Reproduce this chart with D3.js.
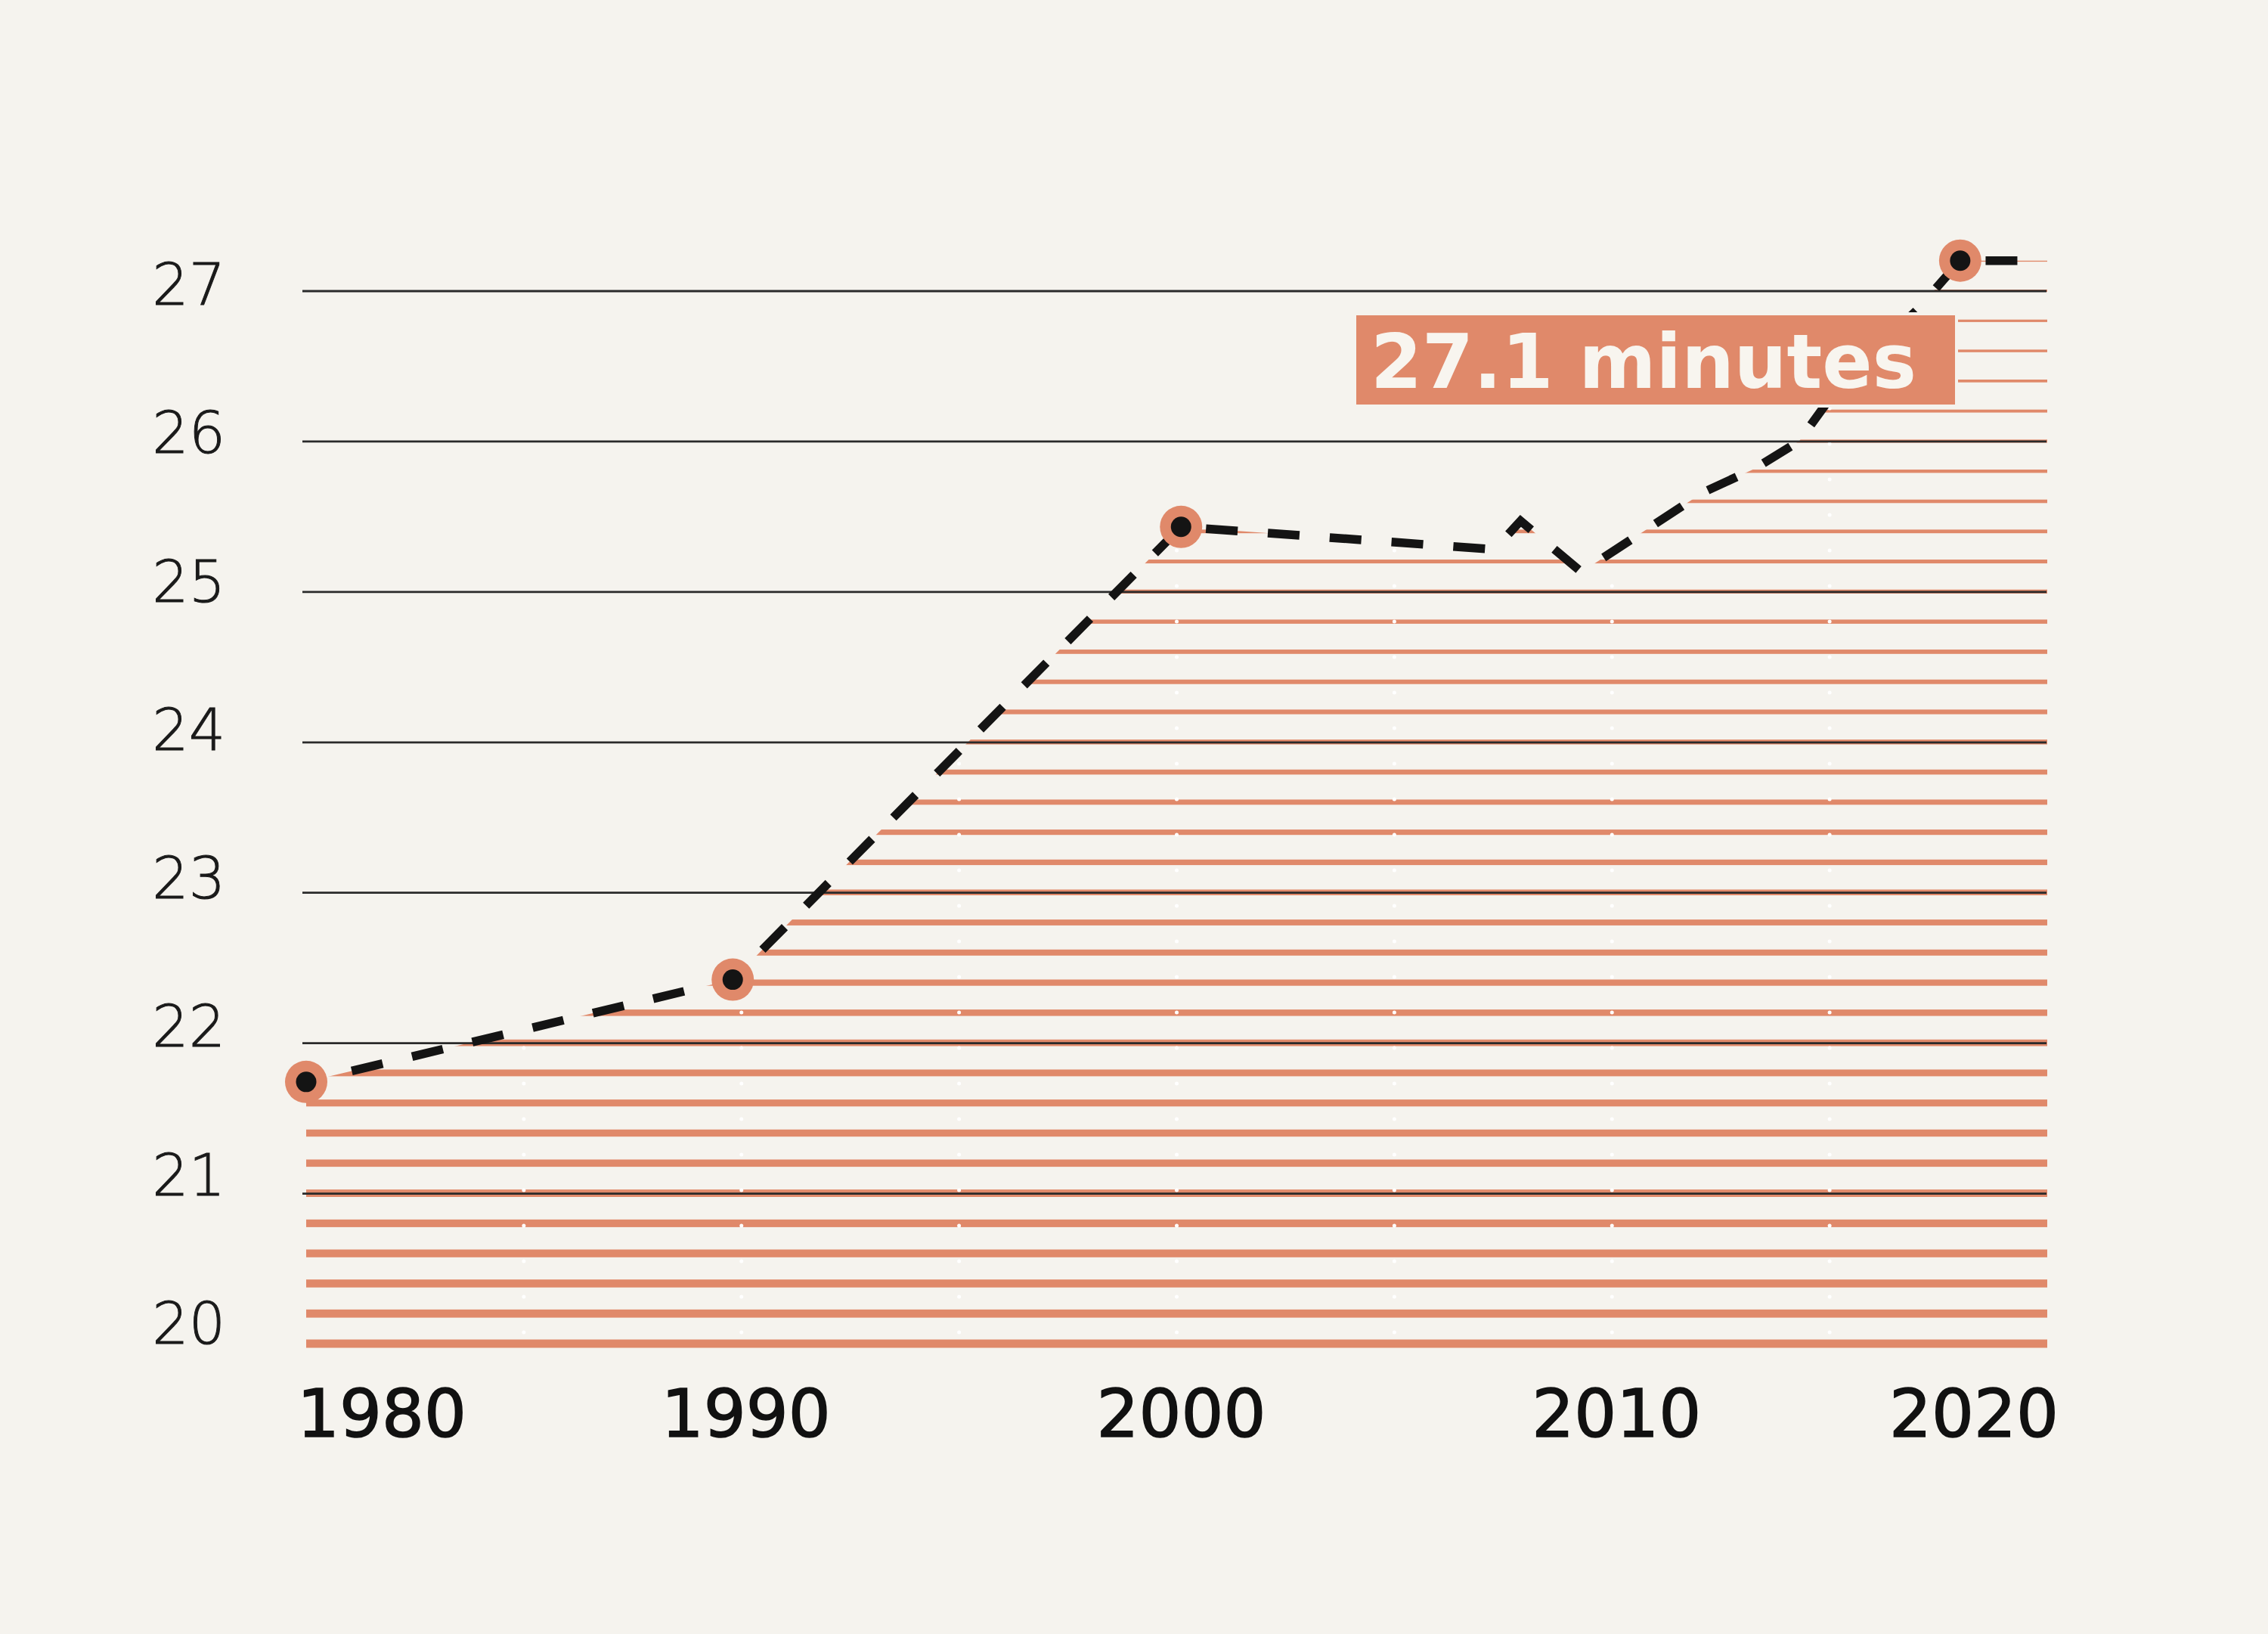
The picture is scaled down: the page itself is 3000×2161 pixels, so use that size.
<!DOCTYPE html>
<html>
<head>
<meta charset="utf-8">
<script src="https://cdn.jsdelivr.net/npm/d3@7"></script>
<style>
  html, body { margin: 0; padding: 0; background: #F5F3EE; }
  svg { display: block; }
</style>
</head>
<body>
<svg id="chart" width="3000" height="2161"></svg>
<script>
// ---- data ----
const years   = [1980, 1989.8, 2000.1, 2007.3, 2007.9, 2009.3, 2012.1, 2013.3, 2014.3, 2015.3, 2017, 2018, 2020];
const minutes = [21.74, 22.42, 25.43, 25.28, 25.47, 25.13, 25.66, 25.82, 26.0, 26.4, 26.87, 27.2, 27.2];
const highlightYears = [1980, 1989.8, 2000.1, 2018];
const yTickValues = [20, 21, 22, 23, 24, 25, 26, 27];
const gridValues  = [21, 22, 23, 24, 25, 26, 27];
const xTickValues = [1980, 1990, 2000, 2010, 2020];
const minorXTicks = [1985, 1990, 1995, 2000, 2005, 2010, 2015];
const calloutText = "27.1 minutes";

// ---- styles ----
const BG = "#F5F3EE";
const ORANGE = "#E0896A";
const INK = "#141414";

const W = 3000, H = 2161;
const svg = d3.select("#chart");
svg.append("rect").attr("width", W).attr("height", H).attr("fill", BG);

const x = d3.scaleLinear().domain([1980, 2020]).range([405, 2708]);
const y = d3.scaleLinear().domain([20, 27]).range([1777, 384.5]);
const yLab = d3.scaleLinear().domain([20, 27]).range([1777, 403]);

const data = years.map((yr, i) => ({ yr, v: minutes[i] }));

// clip = area under the line
const area = d3.area().x(d => x(d.yr)).y0(y(19.9)).y1(d => y(d.v));
svg.append("clipPath").attr("id", "under")
  .append("path").attr("d", area(data));

// stripe pattern every 0.2 minutes, thicker toward the bottom
const stripeVals = d3.range(0, 37).map(i => 20 + i / 5);
const thick = v => 3 + 8 * (y(v) - y(27)) / (y(20) - y(27));
const gStripes = svg.append("g").attr("clip-path", "url(#under)");
gStripes.selectAll("rect").data(stripeVals).join("rect")
  .attr("x", x(1980)).attr("width", x(2020) - x(1980))
  .attr("y", d => y(d) - thick(d) / 2)
  .attr("height", d => Math.max(2.5, thick(d)))
  .attr("fill", ORANGE);

// faint white dotted verticals every 5 years
gStripes.selectAll("line.vdot").data(minorXTicks).join("line")
  .attr("class", "vdot")
  .attr("x1", d => x(d)).attr("x2", d => x(d))
  .attr("y1", y(27.4)).attr("y2", y(19.9))
  .attr("stroke", "#FFFFFF").attr("stroke-width", 5)
  .attr("stroke-linecap", "round").attr("stroke-dasharray", "0 47");

// gridlines
const grid = svg.append("g").attr("transform", `translate(${x(2020) - 1},0)`)
  .call(d3.axisLeft(y).tickValues(gridValues).tickSize(x(2020) - 401).tickFormat(""));
grid.select(".domain").remove();
grid.selectAll(".tick line").attr("stroke", "#2A2A2A").attr("stroke-width", 2.8);

// dashed line
const line = d3.line().x(d => x(d.yr)).y(d => y(d.v));
svg.append("path").attr("d", line(data))
  .attr("fill", "none").attr("stroke", INK).attr("stroke-width", 11.5)
  .attr("stroke-dasharray", "42 40").attr("stroke-dashoffset", 20)
  .attr("stroke-linejoin", "miter");

// highlighted points
const pts = data.filter(d => highlightYears.includes(d.yr));
svg.append("g").selectAll("circle").data(pts).join("circle")
  .attr("cx", d => x(d.yr)).attr("cy", d => y(d.v)).attr("r", 28).attr("fill", ORANGE);
svg.append("g").selectAll("circle").data(pts).join("circle")
  .attr("cx", d => x(d.yr)).attr("cy", d => y(d.v)).attr("r", 13.5).attr("fill", INK);

// callout
svg.append("rect").attr("x", 1792).attr("y", 415).attr("width", 796).attr("height", 122)
  .attr("fill", ORANGE).attr("stroke", BG).attr("stroke-width", 4);
svg.append("text").attr("x", 1813).attr("y", 513)
  .attr("font-family", "'DejaVu Sans', sans-serif").attr("font-weight", 700)
  .attr("font-size", 100).attr("fill", "#F8F5EF")
  .attr("textLength", 722).attr("lengthAdjust", "spacingAndGlyphs")
  .text(calloutText);

// y labels
svg.append("g").selectAll("text").data(yTickValues).join("text")
  .attr("x", 298).attr("y", d => yLab(d))
  .attr("text-anchor", "end")
  .attr("font-family", "'DejaVu Sans', sans-serif").attr("font-weight", 200)
  .attr("font-size", 76).attr("fill", "#1A1A1A")
  .attr("stroke", "#1A1A1A").attr("stroke-width", 1)
  .text(d => d);

// x labels
svg.append("g").selectAll("text").data(xTickValues).join("text")
  .attr("x", (d, i) => i === 0 ? x(d) - 12 : i === xTickValues.length - 1 ? x(d) + 15 : x(d) + 6)
  .attr("y", 1900)
  .attr("text-anchor", (d, i) => i === 0 ? "start" : i === xTickValues.length - 1 ? "end" : "middle")
  .attr("font-family", "'DejaVu Sans', sans-serif").attr("font-weight", 400)
  .attr("font-size", 88).attr("fill", "#111111")
  .attr("stroke", "#111111").attr("stroke-width", 1.6)
  .text(d => d);
</script>
</body>
</html>
